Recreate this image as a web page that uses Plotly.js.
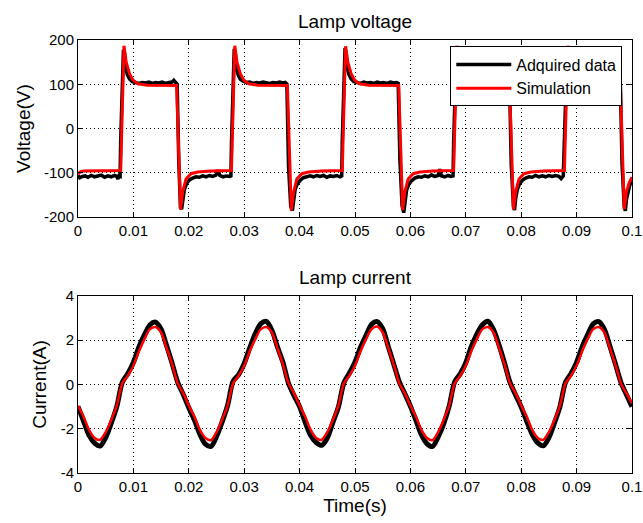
<!DOCTYPE html>
<html><head><meta charset="utf-8">
<script src="https://cdn.plot.ly/plotly-3.0.1.min.js"></script>
<style>html,body{margin:0;padding:0;background:#fff}</style>
</head><body><div id="chart" style="width:643px;height:523px"></div>
<script>
// ---------- tick labels ----------
const xTickVals = [0, 0.01, 0.02, 0.03, 0.04, 0.05, 0.06, 0.07, 0.08, 0.09, 0.1];
const xTickText = ['0', '0.01', '0.02', '0.03', '0.04', '0.05', '0.06', '0.07', '0.08', '0.09', '0.1'];
const vTickVals = [-200, -100, 0, 100, 200];
const vTickText = ['-200', '-100', '0', '100', '200'];
const iTickVals = [-4, -2, 0, 2, 4];
const iTickText = ['-4', '-2', '0', '2', '4'];

// ---------- Lamp voltage : simulation ----------
const tSimV = [
  0, 0.0004, 0.001, 0.004, 0.0077, 0.0083, 0.0087, 0.0093, 0.0099, 0.0108, 0.0125, 0.0178, 0.0185, 0.0189, 0.0195, 0.0204, 0.0216, 0.024,
  0.0277, 0.0283, 0.0287, 0.0293, 0.0299, 0.0308, 0.0325, 0.0378, 0.0385, 0.0389, 0.0395, 0.0404, 0.0416, 0.044,
  0.0477, 0.0483, 0.0487, 0.0493, 0.0499, 0.0508, 0.0525, 0.0579, 0.0586, 0.059, 0.0596, 0.0605, 0.0617, 0.064,
  0.0678, 0.0684, 0.0688, 0.0694, 0.07, 0.0709, 0.0726, 0.0779, 0.0786, 0.079, 0.0796, 0.0805, 0.0817, 0.084,
  0.0878, 0.0884, 0.0888, 0.0894, 0.09, 0.0909, 0.0926, 0.0979, 0.0986, 0.099, 0.0995, 0.1
];
const vSim = [
  -103, -98, -96, -95, -95, 187, 150, 124, 110, 101, 98, 97, -183, -143, -114, -102, -98, -96,
  -95, 187, 150, 124, 110, 101, 98, 97, -185, -145, -114, -102, -98, -96,
  -95, 186, 150, 124, 110, 101, 98, 97, -184, -143, -114, -102, -98, -96,
  -95, 187, 150, 124, 110, 101, 98, 97, -183, -143, -114, -102, -98, -96,
  -95, 187, 150, 124, 110, 101, 98, 97, -182, -143, -122, -110
];

// ---------- Lamp voltage : acquired data ----------
const tAcqV = [
  0, 0.0003, 0.0008, 0.0013, 0.0018, 0.0024, 0.003, 0.0036, 0.0042, 0.0048, 0.0054, 0.006, 0.0066, 0.007, 0.0072, 0.0074, 0.0076, 0.0077, 0.0079, 0.0082, 0.0084, 0.0086, 0.0089, 0.0093, 0.0098, 0.0104, 0.011, 0.0116, 0.0122, 0.0128, 0.0134, 0.014, 0.0146, 0.0152, 0.0158, 0.0164, 0.017, 0.0173, 0.0176, 0.0179, 0.0182, 0.0185, 0.0187, 0.0189, 0.0192, 0.0196, 0.0201, 0.0207, 0.0213, 0.0219, 0.0225, 0.0231, 0.0237, 0.0243, 0.0249, 0.0253, 0.0256, 0.0262, 0.0268, 0.0274,
  0.0276, 0.0277, 0.0279, 0.0282, 0.0284, 0.0286, 0.0289, 0.0293, 0.0298, 0.0304, 0.031, 0.0316, 0.0322, 0.0328, 0.0334, 0.034, 0.0346, 0.0352, 0.0358, 0.0364, 0.037, 0.0374, 0.0377, 0.038, 0.0384, 0.0387, 0.0389, 0.0392, 0.0396, 0.0401, 0.0407, 0.0413, 0.0419, 0.0425, 0.0431, 0.0437, 0.0443, 0.0449, 0.0455, 0.0461, 0.0467, 0.0473, 0.0476,
  0.0477, 0.0479, 0.0482, 0.0484, 0.0486, 0.0489, 0.0493, 0.0498, 0.0504, 0.051, 0.0516, 0.0522, 0.0528, 0.0534, 0.054, 0.0546, 0.0552, 0.0558, 0.0564, 0.057, 0.0575, 0.0578, 0.0581, 0.0585, 0.0588, 0.059, 0.0593, 0.0597, 0.0602, 0.0608, 0.0614, 0.062, 0.0626, 0.0632, 0.0638, 0.0644, 0.065, 0.0653, 0.0656, 0.0662, 0.0668, 0.0673, 0.0677,
  0.0678, 0.068, 0.0683, 0.0685, 0.0687, 0.069, 0.0694, 0.0699, 0.0705, 0.0711, 0.0717, 0.0723, 0.0729, 0.0735, 0.0741, 0.0747, 0.0753, 0.0759, 0.0765, 0.0771, 0.0776, 0.0779, 0.0782, 0.0786, 0.0788, 0.079, 0.0793, 0.0797, 0.0802, 0.0808, 0.0814, 0.082, 0.0826, 0.0832, 0.0838, 0.0844, 0.085, 0.0856, 0.0862, 0.0868, 0.0872, 0.0876,
  0.0878, 0.088, 0.0883, 0.0885, 0.0887, 0.089, 0.0894, 0.0899, 0.0905, 0.0911, 0.0917, 0.0923, 0.0929, 0.0935, 0.0941, 0.0947, 0.0953, 0.0959, 0.0965, 0.0971, 0.0976, 0.0979, 0.0982, 0.0986, 0.0988, 0.099, 0.0993, 0.0996, 0.0998, 0.1
];
const vAcq = [
  -106, -111, -108, -107, -110, -106, -109, -108, -105, -110, -107, -109, -106, -108, -114, -107, -108, -30, 60, 178, 170, 138, 122, 112, 106, 104, 102, 104, 103, 105, 102, 104, 103, 105, 102, 104, 105, 109, 103, 100, -80, -178, -182, -158, -138, -124, -116, -112, -109, -110, -107, -109, -106, -108, -105, -94, -106, -109, -107, -108,
  -107, -35, 55, 180, 168, 140, 121, 111, 107, 104, 105, 102, 104, 103, 105, 103, 102, 104, 103, 105, 103, 104, 101, -85, -176, -185, -160, -137, -125, -117, -111, -109, -107, -109, -106, -108, -106, -110, -107, -108, -106, -109, -107,
  -30, 58, 182, 170, 139, 122, 112, 106, 104, 102, 105, 103, 104, 102, 105, 103, 104, 102, 105, 103, 104, 102, -70, -175, -190, -162, -140, -126, -118, -112, -109, -110, -107, -109, -105, -108, -106, -92, -107, -109, -106, -108, -107,
  -35, 60, 180, 170, 140, 122, 112, 107, 104, 105, 102, 104, 103, 105, 102, 104, 103, 105, 102, 104, 103, 100, -80, -176, -184, -158, -138, -125, -117, -112, -109, -110, -106, -109, -107, -109, -106, -108, -106, -108, -113, -107,
  -30, 60, 180, 170, 140, 122, 112, 107, 104, 105, 102, 104, 103, 105, 102, 104, 103, 105, 102, 104, 103, 100, -80, -176, -186, -160, -140, -128, -122, -112
];

// ---------- Lamp current ----------
const tI = [
  0, 0.001, 0.002, 0.003, 0.004, 0.005, 0.006, 0.007, 0.008, 0.009, 0.01, 0.011, 0.012, 0.013, 0.014, 0.015, 0.016, 0.017, 0.018, 0.019,
  0.02, 0.021, 0.022, 0.023, 0.024, 0.025, 0.026, 0.027, 0.028, 0.029, 0.03, 0.031, 0.032, 0.033, 0.034, 0.035, 0.036, 0.037, 0.038, 0.039,
  0.04, 0.041, 0.042, 0.043, 0.044, 0.045, 0.046, 0.047, 0.048, 0.049, 0.05, 0.051, 0.052, 0.053, 0.054, 0.055, 0.056, 0.057, 0.058, 0.059,
  0.06, 0.061, 0.062, 0.063, 0.064, 0.065, 0.066, 0.067, 0.068, 0.069, 0.07, 0.071, 0.072, 0.073, 0.074, 0.075, 0.076, 0.077, 0.078, 0.079,
  0.08, 0.081, 0.082, 0.083, 0.084, 0.085, 0.086, 0.087, 0.088, 0.089, 0.09, 0.091, 0.092, 0.093, 0.094, 0.095, 0.096, 0.097, 0.098, 0.099,
  0.1
];
const iSim = [
  -0.95, -1.45, -2.05, -2.42, -2.5, -2.15, -1.6, -0.95, 0.05, 0.4, 0.85, 1.5, 2.05, 2.5, 2.6, 2.35, 1.65, 0.9, 0.05, -0.4,
  -0.95, -1.45, -2.05, -2.42, -2.52, -2.15, -1.6, -0.95, 0.05, 0.4, 0.85, 1.5, 2.05, 2.5, 2.6, 2.35, 1.65, 0.9, 0.05, -0.4,
  -0.95, -1.45, -2.05, -2.42, -2.5, -2.15, -1.6, -0.95, 0.05, 0.4, 0.85, 1.5, 2.05, 2.5, 2.62, 2.35, 1.65, 0.9, 0.05, -0.4,
  -0.95, -1.45, -2.05, -2.42, -2.52, -2.15, -1.6, -0.95, 0.05, 0.4, 0.85, 1.5, 2.05, 2.5, 2.6, 2.35, 1.65, 0.9, 0.05, -0.4,
  -0.95, -1.45, -2.05, -2.42, -2.5, -2.15, -1.6, -0.95, 0.05, 0.4, 0.85, 1.5, 2.05, 2.5, 2.6, 2.35, 1.65, 0.9, 0.05, -0.4,
  -0.85
];
const iAcq = [
  -1.0, -1.65, -2.3, -2.65, -2.78, -2.4, -1.75, -1.0, 0.1, 0.5, 1.0, 1.7, 2.25, 2.7, 2.82, 2.5, 1.75, 0.95, 0.1, -0.45,
  -1.05, -1.6, -2.25, -2.7, -2.8, -2.35, -1.7, -0.95, 0.15, 0.45, 0.95, 1.65, 2.3, 2.75, 2.85, 2.45, 1.7, 1.0, 0.05, -0.5,
  -1.0, -1.7, -2.3, -2.62, -2.75, -2.42, -1.72, -1.02, 0.08, 0.52, 1.02, 1.68, 2.22, 2.72, 2.84, 2.52, 1.72, 0.92, 0.12, -0.42,
  -0.98, -1.62, -2.28, -2.68, -2.8, -2.38, -1.78, -0.98, 0.12, 0.48, 0.98, 1.72, 2.28, 2.7, 2.86, 2.48, 1.78, 0.96, 0.08, -0.48,
  -1.02, -1.66, -2.26, -2.64, -2.77, -2.4, -1.74, -1.0, 0.1, 0.5, 1.0, 1.7, 2.25, 2.74, 2.84, 2.5, 1.74, 0.94, 0.1, -0.46,
  -1.0
];

const FONT = 'Liberation Sans, Arial, Helvetica, sans-serif';
const BLACK = '#000000';
const RED = '#ff0000';

const traces = [
  { x: tAcqV, y: vAcq, type: 'scatter', mode: 'lines', name: 'Adquired data',
    line: { color: BLACK, width: 3.5 }, xaxis: 'x', yaxis: 'y' },
  { x: tSimV, y: vSim, type: 'scatter', mode: 'lines', name: 'Simulation',
    line: { color: RED, width: 3 }, xaxis: 'x', yaxis: 'y' },
  { x: tI, y: iAcq, type: 'scatter', mode: 'lines', name: 'Adquired data',
    line: { color: BLACK, width: 5, shape: 'spline', smoothing: 0.8 }, xaxis: 'x2', yaxis: 'y2', showlegend: false },
  { x: tI, y: iSim, type: 'scatter', mode: 'lines', name: 'Simulation',
    line: { color: RED, width: 2.5, shape: 'spline', smoothing: 0.8 }, xaxis: 'x2', yaxis: 'y2', showlegend: false }
];

function axisStyle(extra) {
  return Object.assign({
    showline: true, linecolor: BLACK, linewidth: 1, mirror: 'ticks',
    ticks: 'inside', ticklen: 5, tickcolor: BLACK, tickwidth: 1,
    showgrid: true, gridcolor: BLACK, gridwidth: 1, griddash: '1px,3px',
    zeroline: false, tickmode: 'array', ticklabeloverflow: 'allow',
    tickfont: { family: FONT, size: 15, color: BLACK },
    fixedrange: true
  }, extra);
}

const layout = {
  width: 643, height: 523,
  margin: { l: 78, r: 11, t: 40, b: 50 },
  paper_bgcolor: '#ffffff', plot_bgcolor: '#ffffff',
  font: { family: FONT, color: BLACK },
  showlegend: true,
  legend: {
    x: 0.672, y: 0.985, xanchor: 'left', yanchor: 'top',
    bgcolor: '#ffffff', bordercolor: BLACK, borderwidth: 1,
    font: { family: FONT, size: 16, color: BLACK },
    itemwidth: 55, tracegroupgap: 0
  },
  xaxis: axisStyle({ domain: [0, 1], anchor: 'y', range: [0, 0.1], tickvals: xTickVals, ticktext: xTickText }),
  yaxis: axisStyle({ domain: [0.591, 1], anchor: 'x', range: [-200, 200], tickvals: vTickVals, ticktext: vTickText,
    title: { text: 'Voltage(V)', font: { family: FONT, size: 19, color: BLACK }, standoff: 8 } }),
  xaxis2: axisStyle({ domain: [0, 1], anchor: 'y2', range: [0, 0.1], tickvals: xTickVals, ticktext: xTickText,
    title: { text: 'Time(s)', font: { family: FONT, size: 19, color: BLACK }, standoff: 4 } }),
  yaxis2: axisStyle({ domain: [0, 0.4088], anchor: 'x2', range: [-4, 4], tickvals: iTickVals, ticktext: iTickText,
    title: { text: 'Current(A)', font: { family: FONT, size: 19, color: BLACK }, standoff: 8 } }),
  annotations: [
    { text: 'Lamp voltage', xref: 'paper', yref: 'paper', x: 0.5, y: 1, xanchor: 'center', yanchor: 'bottom',
      yshift: 6, showarrow: false, font: { family: FONT, size: 19, color: BLACK } },
    { text: 'Lamp current', xref: 'paper', yref: 'paper', x: 0.5, y: 0.4088, xanchor: 'center', yanchor: 'bottom',
      yshift: 6, showarrow: false, font: { family: FONT, size: 19, color: BLACK } }
  ]
};

Plotly.newPlot('chart', traces, layout, { displayModeBar: false, staticPlot: true });
</script></body></html>
